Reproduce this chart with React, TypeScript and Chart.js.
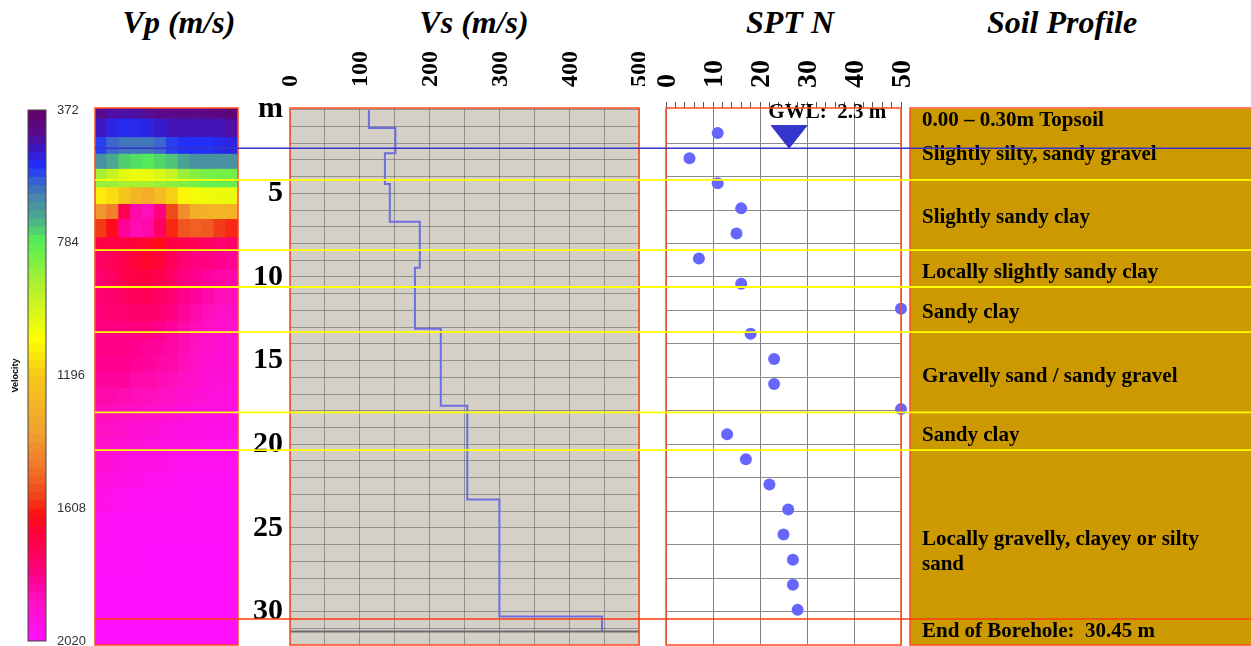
import React, { useEffect, useRef } from 'react';
import { Chart, registerables } from 'chart.js';

Chart.register(...registerables);

// ---------------- data ----------------
const DEPTH_MIN = -0.1;
const DEPTH_MAX = 32;
const DEPTH_LABELS = [0, 5, 10, 15, 20, 25, 30];

const VP_MIN = 372;
const VP_MAX = 2020;
const VP_TICKS = [372, 784, 1196, 1608, 2020];
const VP_BAND_COUNT = 64;
const VP_COLUMNS = ['1', '2', '3', '4', '5', '6', '7', '8', '9', '10', '11', '12'];
const VP_ROW_EDGES = [
  -0.1, 0.5, 1.6, 2.6, 3.5, 4.1, 4.6, 5.6, 6.5, 7.6, 8.4, 9.5, 10.6, 11.6, 12.6, 13.6,
  14.6, 15.6, 16.6, 17.6, 18.6, 19.6, 20.6, 21.6, 22.6, 24, 26, 28, 30, 32,
];
const VP_ROWS = [
  [440, 460, 465, 460, 450, 430, 430, 430, 430, 430, 425, 400],
  [490, 520, 530, 530, 520, 500, 480, 480, 480, 480, 480, 460],
  [560, 600, 620, 620, 620, 600, 560, 540, 540, 540, 530, 520],
  [660, 700, 740, 760, 770, 750, 730, 690, 660, 660, 660, 660],
  [900, 960, 1020, 1040, 1040, 1000, 960, 880, 850, 830, 820, 820],
  [870, 880, 900, 900, 900, 880, 860, 840, 820, 800, 800, 800],
  [1120, 1150, 1200, 1280, 1320, 1250, 1180, 1100, 1060, 1050, 1040, 1040],
  [1400, 1460, 1720, 1860, 1880, 1800, 1560, 1420, 1320, 1300, 1280, 1300],
  [1580, 1640, 1830, 1870, 1860, 1760, 1600, 1540, 1520, 1530, 1580, 1600],
  [1700, 1710, 1700, 1680, 1660, 1640, 1700, 1720, 1740, 1760, 1780, 1770],
  [1760, 1740, 1720, 1680, 1660, 1680, 1740, 1780, 1800, 1800, 1820, 1830],
  [1780, 1760, 1720, 1700, 1700, 1720, 1760, 1800, 1820, 1840, 1850, 1860],
  [1780, 1770, 1760, 1740, 1740, 1760, 1780, 1820, 1840, 1860, 1880, 1880],
  [1790, 1780, 1780, 1770, 1770, 1780, 1800, 1830, 1860, 1880, 1900, 1900],
  [1800, 1800, 1800, 1800, 1800, 1820, 1840, 1860, 1880, 1900, 1920, 1920],
  [1810, 1810, 1810, 1820, 1830, 1840, 1850, 1870, 1890, 1910, 1930, 1930],
  [1820, 1820, 1820, 1830, 1840, 1850, 1860, 1880, 1900, 1920, 1930, 1930],
  [1840, 1840, 1840, 1860, 1860, 1870, 1880, 1900, 1910, 1930, 1940, 1940],
  [1860, 1860, 1870, 1880, 1880, 1890, 1900, 1920, 1930, 1940, 1950, 1950],
  [1880, 1880, 1890, 1900, 1910, 1920, 1930, 1940, 1950, 1960, 1960, 1960],
  [1890, 1900, 1910, 1930, 1930, 1940, 1950, 1960, 1960, 1970, 1970, 1970],
  [1910, 1920, 1930, 1940, 1950, 1960, 1960, 1970, 1970, 1980, 1980, 1980],
  [1930, 1940, 1950, 1960, 1960, 1970, 1980, 1980, 1990, 1990, 1990, 1990],
  [1950, 1960, 1970, 1970, 1980, 1980, 1990, 1990, 2000, 2000, 2000, 2000],
  [1970, 1980, 1990, 1990, 2000, 2000, 2000, 2000, 2010, 2010, 2010, 2010],
  [2000, 2000, 2005, 2005, 2010, 2010, 2010, 2010, 2010, 2010, 2010, 2010],
  [2010, 2010, 2010, 2010, 2015, 2015, 2015, 2015, 2015, 2015, 2015, 2015],
  [2015, 2015, 2015, 2015, 2015, 2015, 2015, 2015, 2015, 2015, 2015, 2015],
  [2015, 2015, 2015, 2015, 2015, 2015, 2015, 2015, 2015, 2015, 2015, 2015],
];

const VS_LAYER_TOPS = [0, 1.1, 2.6, 4.45, 6.7, 9.45, 13.1, 17.7, 23.3, 30.3];
const VS_VALUES = [113, 151, 136, 143, 186, 179, 216, 254, 300, 447];
const VS_PROFILE_BOTTOM = 31.2;
const VS_MAX = 500;

const SPT_DEPTHS = [1.4, 2.9, 4.4, 5.9, 7.4, 8.9, 10.4, 11.9, 13.4, 14.9, 16.4, 17.9, 19.4, 20.9, 22.4, 23.9, 25.4, 26.9, 28.4, 29.9];
const SPT_N = [11, 5, 11, 16, 15, 7, 16, 50, 18, 23, 23, 50, 13, 17, 22, 26, 25, 27, 27, 28];
const SPT_MAX = 50;

const GWL_DEPTH = 2.3;
const GWL_LABEL = 'GWL:  2.3 m';
const LAYER_BOUNDARIES = [4.2, 8.4, 10.6, 13.3, 18.1, 20.35];
const BOREHOLE_END = 30.45;

const SOIL_TOPS = [0, 0.3, 4.2, 8.4, 10.6, 13.3, 18.1, 20.35, 30.45];
const SOIL_BOTTOMS = [0.3, 4.2, 8.4, 10.6, 13.3, 18.1, 20.35, 30.45, 32];
const SOIL_LABELS = [
  ['0.00 – 0.30m Topsoil'],
  ['Slightly silty, sandy gravel'],
  ['Slightly sandy clay'],
  ['Locally slightly sandy clay'],
  ['Sandy clay'],
  ['Gravelly sand / sandy gravel'],
  ['Sandy clay'],
  ['Locally gravelly, clayey or silty', 'sand'],
  ['End of Borehole:  30.45 m'],
];
const SOIL_LABEL_DEPTHS = [0.68, 2.71, 6.47, 9.76, 12.15, 15.98, 19.5, 26.47, 31.22];

const TITLES = ['Vp (m/s)', 'Vs (m/s)', 'SPT N', 'Soil Profile'];

// ---------------- styling helpers ----------------
const SERIF = "'Liberation Serif', 'Times New Roman', serif";
const SANS = "'Liberation Sans', Arial, sans-serif";
const PANEL_RED = '#ff4a1a';
const GRID_GREY = 'rgba(70,70,70,0.45)';

const CMAP: [number, string][] = [
  [0.0, '#660066'],
  [0.04, '#5a0a8a'],
  [0.075, '#3a18c8'],
  [0.105, '#2030ff'],
  [0.135, '#3a62d0'],
  [0.165, '#4888a8'],
  [0.2, '#4aa890'],
  [0.245, '#55ee55'],
  [0.33, '#b0f030'],
  [0.43, '#ffff00'],
  [0.5, '#f6c81a'],
  [0.61, '#f0a030'],
  [0.68, '#f07028'],
  [0.73, '#f04018'],
  [0.76, '#ff1010'],
  [0.8, '#ff0040'],
  [0.84, '#ff0060'],
  [0.88, '#ff0090'],
  [0.92, '#ff10c0'],
  [1.0, '#ff10ff'],
];

function hexRgb(h: string) {
  return [parseInt(h.slice(1, 3), 16), parseInt(h.slice(3, 5), 16), parseInt(h.slice(5, 7), 16)];
}

function vpColor(v: number) {
  const t = Math.max(0, Math.min(1, (v - VP_MIN) / (VP_MAX - VP_MIN)));
  for (let i = 0; i < CMAP.length - 1; i++) {
    const [t0, c0] = CMAP[i];
    const [t1, c1] = CMAP[i + 1];
    if (t <= t1) {
      const f = (t - t0) / (t1 - t0);
      const a = hexRgb(c0);
      const b = hexRgb(c1);
      const c = a.map((x, k) => Math.round(x + (b[k] - x) * f));
      return `rgb(${c[0]},${c[1]},${c[2]})`;
    }
  }
  return CMAP[CMAP.length - 1][1];
}

function baseOptions(padding: any) {
  return {
    responsive: false,
    animation: false,
    devicePixelRatio: 1,
    events: [],
    layout: { padding, autoPadding: false },
    plugins: { legend: { display: false }, tooltip: { enabled: false }, title: { display: false } },
  };
}

// fix the size of an axis box and drop the edge padding Chart.js adds for labels
const fixBox = (prop: 'width' | 'height', size: number) => (s: any) => {
  s[prop] = size;
  s.paddingLeft = 0;
  s.paddingRight = 0;
  s.paddingTop = 0;
  s.paddingBottom = 0;
};

const depthAxis = (extra: any = {}) => ({
  type: 'linear',
  reverse: true,
  min: DEPTH_MIN,
  max: DEPTH_MAX,
  ...extra,
});

const areaFill = (color: string) => ({
  id: 'areaFill',
  beforeDraw(chart: any) {
    const { ctx, chartArea: a } = chart;
    ctx.save();
    ctx.fillStyle = color;
    ctx.fillRect(a.left, a.top, a.right - a.left, a.bottom - a.top);
    ctx.restore();
  },
});

const frame = (color: string, width: number, extendRight = 0) => ({
  id: 'frame',
  afterDraw(chart: any) {
    const { ctx, chartArea: a } = chart;
    ctx.save();
    ctx.strokeStyle = color;
    ctx.lineWidth = width;
    ctx.strokeRect(a.left, a.top, a.right - a.left + extendRight, a.bottom - a.top);
    ctx.restore();
  },
});

// ---------------- chart configs ----------------
function colorbarConfig() {
  const edges = Array.from({ length: VP_BAND_COUNT + 1 }, (_, i) => VP_MIN + ((VP_MAX - VP_MIN) * i) / VP_BAND_COUNT);
  return {
    type: 'bar',
    data: {
      labels: ['Velocity'],
      datasets: edges.slice(0, -1).map((lo, i) => ({
        data: [[lo, edges[i + 1]]],
        backgroundColor: vpColor((lo + edges[i + 1]) / 2),
        borderWidth: 0,
        grouped: false,
        barPercentage: 1,
        categoryPercentage: 1,
        inflateAmount: 0.6,
        yAxisID: 'y',
      })),
    },
    options: {
      ...baseOptions({ top: 10, bottom: 5, left: 0, right: 0 }),
      scales: {
        x: { display: false },
        y: {
          position: 'right',
          min: VP_MIN,
          max: VP_MAX,
          reverse: true,
          afterBuildTicks: (s: any) => {
            s.ticks = VP_TICKS.map((value) => ({ value }));
          },
          ticks: {
            font: { family: SANS, size: 13 },
            color: '#333',
            padding: 11,
            autoSkip: false,
            callback: (v: number) => String(v),
          },
          grid: { display: false, drawTicks: false },
          border: { display: false },
          afterFit: fixBox('width', 49),
        },
        yl: {
          position: 'left',
          min: VP_MIN,
          max: VP_MAX,
          reverse: true,
          ticks: { display: false },
          grid: { display: false, drawTicks: false },
          border: { display: false },
          title: {
            display: true,
            text: 'Velocity',
            font: { family: SANS, size: 9, weight: 'bold' },
            color: '#000',
            padding: { top: 10, bottom: 0 },
          },
          afterFit: fixBox('width', 28),
        },
      },
    },
    plugins: [frame('#444', 1)],
  };
}

function heatmapConfig() {
  return {
    type: 'bar',
    data: {
      labels: VP_COLUMNS,
      datasets: VP_ROWS.map((row, r) => ({
        data: row.map(() => [VP_ROW_EDGES[r], VP_ROW_EDGES[r + 1]]),
        backgroundColor: row.map((v) => vpColor(v)),
        borderWidth: 0,
        grouped: false,
        barPercentage: 1,
        categoryPercentage: 1,
        inflateAmount: 0.6,
      })),
    },
    options: {
      ...baseOptions({ top: 2, bottom: 2, left: 2, right: 2 }),
      scales: {
        x: { display: false },
        y: depthAxis({ display: false }),
      },
    },
    plugins: [frame(PANEL_RED, 1.5)],
  };
}

function vsConfig() {
  const pts: { x: number; y: number }[] = [];
  VS_VALUES.forEach((v, i) => {
    const top = VS_LAYER_TOPS[i];
    const bottom = i + 1 < VS_LAYER_TOPS.length ? VS_LAYER_TOPS[i + 1] : VS_PROFILE_BOTTOM;
    pts.push({ x: v, y: top }, { x: v, y: bottom });
  });
  return {
    type: 'scatter',
    data: {
      datasets: [
        {
          data: [{ x: 0, y: VS_PROFILE_BOTTOM }, { x: VS_MAX, y: VS_PROFILE_BOTTOM }],
          showLine: true,
          borderColor: '#6a6a6a',
          borderWidth: 2,
          pointRadius: 0,
        },
        {
          data: pts,
          showLine: true,
          borderColor: '#6e6ee0',
          borderWidth: 2,
          pointRadius: 0,
        },
      ],
    },
    options: {
      ...baseOptions({ top: 0, bottom: 1, left: 0, right: 6 }),
      scales: {
        x: {
          type: 'linear',
          position: 'top',
          min: 0,
          max: VS_MAX,
          afterBuildTicks: (s: any) => {
            s.ticks = Array.from({ length: VS_MAX / 50 + 1 }, (_, i) => ({ value: i * 50 }));
          },
          ticks: {
            autoSkip: false,
            minRotation: 90,
            maxRotation: 90,
            padding: 21,
            labelOffset: 30,
            color: '#000',
            font: { family: SERIF, size: 24, weight: 'bold' },
            callback: (v: number) => (v % 100 === 0 ? String(v) : ''),
          },
          grid: { color: GRID_GREY, drawTicks: false },
          border: { display: false },
          afterFit: fixBox('height', 78),
        },
        y: depthAxis({
          afterBuildTicks: (s: any) => {
            s.ticks = Array.from({ length: 32 }, (_, i) => ({ value: i }));
          },
          ticks: {
            autoSkip: false,
            padding: 7,
            color: '#000',
            font: { family: SERIF, size: 30, weight: 'bold' },
            callback: (v: number) => (v === 0 ? 'm' : DEPTH_LABELS.includes(v) ? String(v) : ''),
          },
          grid: { color: GRID_GREY, drawTicks: false },
          border: { display: false },
          afterFit: fixBox('width', 60),
        }),
      },
    },
    plugins: [areaFill('#d4d0c8'), frame(PANEL_RED, 1.5)],
  };
}

function sptConfig() {
  const gwlLabel = {
    id: 'gwlLabel',
    afterDatasetsDraw(chart: any) {
      const { ctx, scales } = chart;
      ctx.save();
      ctx.font = `bold 21px ${SERIF}`;
      ctx.fillStyle = '#000';
      ctx.textAlign = 'center';
      ctx.textBaseline = 'middle';
      ctx.fillText(GWL_LABEL, scales.x.getPixelForValue(34.3), scales.y.getPixelForValue(0.2));
      ctx.restore();
    },
  };
  return {
    type: 'scatter',
    data: {
      datasets: [
        {
          data: SPT_N.map((n, i) => ({ x: n, y: SPT_DEPTHS[i] })),
          pointRadius: 6,
          backgroundColor: '#6666ff',
          borderWidth: 0,
          clip: false,
        },
        {
          data: [
            { x: 22.4, y: GWL_DEPTH - 1.35 },
            { x: 30.0, y: GWL_DEPTH - 1.35 },
            { x: 26.2, y: GWL_DEPTH },
            { x: 22.4, y: GWL_DEPTH - 1.35 },
          ],
          showLine: true,
          fill: 'shape',
          backgroundColor: '#3535cc',
          borderColor: '#3535cc',
          borderWidth: 1,
          pointRadius: 0,
        },
      ],
    },
    options: {
      ...baseOptions({ top: 0, bottom: 1, left: 26, right: 19 }),
      scales: {
        x: {
          type: 'linear',
          position: 'top',
          min: 0,
          max: SPT_MAX,
          afterBuildTicks: (s: any) => {
            s.ticks = Array.from({ length: SPT_MAX / 2 + 1 }, (_, i) => ({ value: i * 2 }));
          },
          ticks: {
            autoSkip: false,
            minRotation: 90,
            maxRotation: 90,
            padding: 14,
            labelOffset: 35,
            color: '#000',
            font: { family: SERIF, size: 28, weight: 'bold' },
            callback: (v: number) => (v % 10 === 0 ? String(v) : ''),
          },
          grid: {
            color: (c: any) => (c.tick && c.tick.value % 10 === 0 ? '#808080' : 'rgba(0,0,0,0)'),
            tickColor: '#555',
            tickLength: 6,
            drawTicks: true,
          },
          border: { display: false },
          afterFit: fixBox('height', 78),
        },
        y: depthAxis({
          afterBuildTicks: (s: any) => {
            s.ticks = Array.from({ length: 15 }, (_, i) => ({ value: (i + 1) * 2 }));
          },
          ticks: { display: false },
          grid: { color: '#8c8c8c', drawTicks: false },
          border: { display: false },
          afterFit: fixBox('width', 0),
        }),
      },
    },
    plugins: [gwlLabel, frame(PANEL_RED, 1.5)],
  };
}

function soilConfig() {
  const labels = {
    id: 'soilLabels',
    afterDatasetsDraw(chart: any) {
      const { ctx, scales, chartArea } = chart;
      ctx.save();
      ctx.font = `bold 21px ${SERIF}`;
      ctx.fillStyle = '#000';
      ctx.textAlign = 'left';
      ctx.textBaseline = 'middle';
      SOIL_LABELS.forEach((lines, i) => {
        const cy = scales.y.getPixelForValue(SOIL_LABEL_DEPTHS[i]);
        const lh = 25;
        lines.forEach((line, k) => {
          ctx.fillText(line, chartArea.left + 12, cy + (k - (lines.length - 1) / 2) * lh);
        });
      });
      ctx.restore();
    },
  };
  return {
    type: 'bar',
    data: {
      labels: ['Soil'],
      datasets: SOIL_TOPS.map((t, i) => ({
        data: [[t, SOIL_BOTTOMS[i]]],
        backgroundColor: '#cc9900',
        borderWidth: 0,
        grouped: false,
        barPercentage: 1,
        categoryPercentage: 1,
        inflateAmount: 0.6,
      })),
    },
    options: {
      ...baseOptions({ top: 8, bottom: 1, left: 5, right: 0 }),
      scales: {
        x: { display: false },
        y: depthAxis({ display: false }),
      },
    },
    plugins: [labels, frame(PANEL_RED, 1.5, 20)],
  };
}

function overlayConfig() {
  const hline = (d: number, color: string, width: number) => ({
    data: [{ x: 0, y: d }, { x: 1, y: d }],
    showLine: true,
    borderColor: color,
    borderWidth: width,
    pointRadius: 0,
  });
  return {
    type: 'scatter',
    data: {
      datasets: [
        ...LAYER_BOUNDARIES.map((d) => hline(d, '#ffff00', 1.8)),
        hline(GWL_DEPTH, '#3535cc', 1.5),
        hline(BOREHOLE_END, '#ff3a10', 1.5),
      ],
    },
    options: {
      ...baseOptions({ top: 8, bottom: 1, left: 5, right: 0 }),
      scales: {
        x: { type: 'linear', min: 0, max: 1, display: false },
        y: depthAxis({ display: false }),
      },
    },
  };
}

// ---------------- components ----------------
function ChartCanvas({ left, top, width, height, make }: { left: number; top: number; width: number; height: number; make: () => any }) {
  const ref = useRef<HTMLCanvasElement | null>(null);
  useEffect(() => {
    if (!ref.current) return;
    const chart = new Chart(ref.current, make());
    return () => chart.destroy();
  }, [make]);
  return (
    <canvas
      ref={ref}
      width={width}
      height={height}
      style={{ position: 'absolute', left, top, width, height }}
    />
  );
}

const TITLE_CENTERS = [179, 474, 790, 1062];

export default function App() {
  return (
    <div
      style={{
        position: 'absolute',
        left: 0,
        top: 0,
        width: 1251,
        height: 646,
        overflow: 'hidden',
        background: '#fff',
      }}
    >
      {TITLES.map((t, i) => (
        <div
          key={t}
          style={{
            position: 'absolute',
            left: TITLE_CENTERS[i] - 150,
            width: 300,
            top: 6,
            textAlign: 'center',
            font: `italic bold 32px ${SERIF}`,
            lineHeight: '32px',
            color: '#000',
          }}
        >
          {t}
        </div>
      ))}
      <ChartCanvas left={0} top={100} width={95} height={546} make={colorbarConfig} />
      <ChartCanvas left={93} top={106} width={147} height={541} make={heatmapConfig} />
      <ChartCanvas left={230} top={30} width={415} height={616} make={vsConfig} />
      <ChartCanvas left={640} top={30} width={280} height={616} make={sptConfig} />
      <ChartCanvas left={905} top={100} width={346} height={546} make={soilConfig} />
      <ChartCanvas left={90} top={100} width={1161} height={546} make={overlayConfig} />
    </div>
  );
}
